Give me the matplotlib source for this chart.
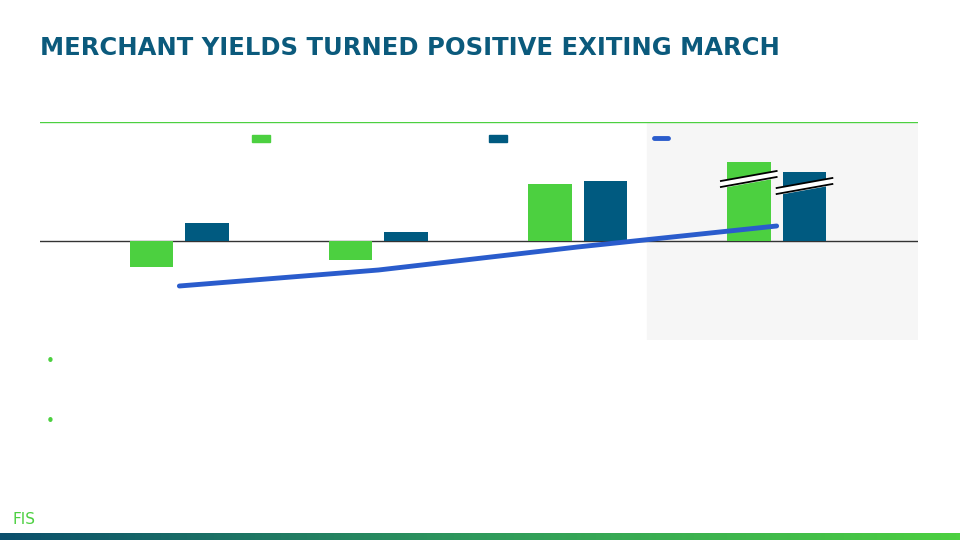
import matplotlib.pyplot as plt
import numpy as np
from matplotlib.colors import LinearSegmentedColormap

categories = ["Q1", "Q2", "Q3", "Q4"]
series_a = [-26, -19, 57, 79]   # green bars
series_b = [18, 9, 60, 69]      # blue bars
trend = [-45, -29, -6, 15]      # line

GREEN = "#4cd040"
TEAL = "#005a80"
LINE = "#2a5ccc"

fig = plt.figure(figsize=(9.6, 5.4), dpi=100)
fig.patch.set_facecolor("white")

fig.text(40 / 960, 1 - 48 / 540, "MERCHANT YIELDS TURNED POSITIVE EXITING MARCH",
         color="#0b5a7c", fontsize=17.5, fontweight="heavy", va="center", ha="left",
         family="DejaVu Sans")

ax = fig.add_axes([40 / 960, 1 - 340 / 540, 878 / 960, 218 / 540])
x = np.arange(len(categories))
ax.set_xlim(-0.70, 3.71)
ax.set_ylim(-99, 119)
ax.axvspan(2.35, 3.71, color="#f6f6f6", zorder=0)
ax.axhline(119, color="#4cd040", lw=1, zorder=1)
ax.axhline(0, color="#333333", lw=1, zorder=1)

w = 0.22
ax.bar(x - 0.14, series_a, w, color=GREEN, zorder=2)
ax.bar(x + 0.14, series_b, w, color=TEAL, zorder=2)
ax.plot(x, trend, color=LINE, lw=3.5, solid_capstyle="round", zorder=3)

# axis break marks on last group
for dx, yb in [(-0.14, 63), (0.14, 56)]:
    xs = [3 + dx - 0.14, 3 + dx + 0.14]
    ax.fill_between(xs, [yb - 9, yb + 1], [yb - 3, yb + 7], color="white", zorder=4)
    for off in (0, -6):
        ys = [yb + off - 3, yb + off + 7]
        ax.plot(xs, ys, color="black", lw=1.3, zorder=5)

ax.axis("off")

# legend markers
for px, c in [(252, GREEN), (489, TEAL)]:
    fig.patches.append(plt.Rectangle((px / 960, 1 - 142 / 540), 18 / 960, 7 / 540,
                                     transform=fig.transFigure, color=c))
fig.add_artist(plt.Line2D([654 / 960, 668 / 960], [1 - 138 / 540] * 2,
                          color=LINE, lw=3.5, solid_capstyle="round"))

# bullets
for py in (361, 421):
    fig.text(50 / 960, 1 - py / 540, "•", color=GREEN, fontsize=11, ha="center", va="center")

# logo
fig.text(12 / 960, 1 - 519 / 540, "FIS", color=GREEN, fontsize=11, ha="left", va="center",
         family="DejaVu Sans")

# gradient bar
gax = fig.add_axes([0, 0, 1, 7 / 540])
cmap = LinearSegmentedColormap.from_list("g", ["#0b4f6c", "#2f9a5c", "#4cd040"])
gax.imshow(np.linspace(0, 1, 256)[None, :], aspect="auto", cmap=cmap)
gax.axis("off")

fig.savefig("out.png", dpi=100)
